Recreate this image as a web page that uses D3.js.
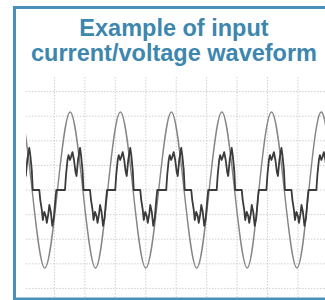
<!DOCTYPE html>
<html>
<head>
<meta charset="utf-8">
<script src="https://cdn.jsdelivr.net/npm/d3@7"></script>
<style>
    html, body { margin: 0; padding: 0; background: #fff; }
    svg { display: block; }
</style>
</head>
<body>
<div id="chart"></div>
<script>
// title text
var titleLines = ["Example of input", "current/voltage waveform"];

// grid: time in ms (12 ms per division), amplitude in divisions
var xTicks = [0, 12, 24, 36, 48, 60, 72, 84, 96, 108, 120];
var yTicks = [-5, -4, -3, -2, -1, 0, 1, 2, 3, 4, 5];

// voltage upward zero crossings (ms)
var cycleStarts = [-6.8, 13.2, 33.0, 53.1, 73.0, 92.6, 112.3];

// one period of voltage, relative to its upward zero crossing
var voltT = [0, 5, 10, 15];
var voltV = [0, 3.17, 0, -3.17];

// one period of input current, relative to the same crossing
var currT = [0, 2.96, 3.36, 3.95, 4.34, 4.93, 5.33, 5.92, 6.51, 7.11, 7.50, 8.09, 8.88, 9.28, 9.87, 10.26,
             12.83, 13.22, 13.82, 14.21, 14.80, 15.39, 15.79, 16.38, 16.78, 17.37, 17.96, 18.55, 19.15, 19.54];
var currV = [0, 0, 0.61, 1.22, 1.42, 1.22, 1.34, 1.54, 1.22, 0.73, 0.57, 1.22, 1.71, 1.42, 0.81, 0,
             0, -0.41, -0.81, -1.22, -0.89, -1.06, -1.34, -0.98, -0.61, -0.89, -1.46, -1.14, -0.41, 0];

var width = 325, height = 300;
var plot = { left: 26, top: 77, right: 330, bottom: 297 };

var svg = d3.select("#chart").append("svg")
    .attr("width", width)
    .attr("height", height);

var x = d3.scaleLinear().domain([0, 120]).range([24, 328.4]);
var y = d3.scaleLinear().domain([-4, 4]).range([288.4, 91.6]);

// blurred look of the scanned oscilloscope trace
var defs = svg.append("defs");
defs.append("filter").attr("id", "soft")
    .append("feGaussianBlur").attr("stdDeviation", 0.4);
defs.append("clipPath").attr("id", "plotClip")
    .append("rect")
    .attr("x", plot.left).attr("y", plot.top)
    .attr("width", plot.right - plot.left).attr("height", plot.bottom - plot.top);

var g = svg.append("g").attr("clip-path", "url(#plotClip)");

// dotted grid
g.selectAll(".vgrid").data(xTicks).enter().append("line")
    .attr("class", "vgrid")
    .attr("x1", function(d) { return x(d); })
    .attr("x2", function(d) { return x(d); })
    .attr("y1", plot.top).attr("y2", plot.bottom)
    .attr("stroke", "#cfcfcf")
    .attr("stroke-width", 1)
    .attr("stroke-dasharray", "1.5,1.5");

g.selectAll(".hgrid").data(yTicks).enter().append("line")
    .attr("class", "hgrid")
    .attr("y1", function(d) { return y(d); })
    .attr("y2", function(d) { return y(d); })
    .attr("x1", plot.left).attr("x2", plot.right)
    .attr("stroke", "#cfcfcf")
    .attr("stroke-width", 1)
    .attr("stroke-dasharray", "1.5,1.5");

function tile(ts, vs) {
    var pts = [];
    cycleStarts.forEach(function(s) {
        for (var i = 0; i < ts.length; i++) {
            pts.push([s + ts[i], vs[i]]);
        }
    });
    return pts;
}

var voltage = tile(voltT, voltV);
var current = tile(currT, currV);

// stretches where the current sits at zero (drawn heavier, noisy on the scope)
var flats = [];
for (var i = 1; i < current.length; i++) {
    if (current[i - 1][1] === 0 && current[i][1] === 0) {
        flats.push([current[i - 1], current[i]]);
    }
}

var voltLine = d3.line()
    .x(function(d) { return x(d[0]); })
    .y(function(d) { return y(d[1]); })
    .curve(d3.curveNatural);

var currLine = d3.line()
    .x(function(d) { return x(d[0]); })
    .y(function(d) { return y(d[1]); });

g.append("path")
    .datum(voltage)
    .attr("d", voltLine)
    .attr("fill", "none")
    .attr("stroke", "#858585")
    .attr("stroke-width", 1.4)
    .attr("filter", "url(#soft)");

g.append("path")
    .datum(current)
    .attr("d", currLine)
    .attr("fill", "none")
    .attr("stroke", "#3a3a3a")
    .attr("stroke-width", 1.8)
    .attr("stroke-linejoin", "round")
    .attr("filter", "url(#soft)");

g.selectAll(".flat").data(flats).enter().append("path")
    .attr("class", "flat")
    .attr("d", currLine)
    .attr("fill", "none")
    .attr("stroke", "#2e2e2e")
    .attr("stroke-width", 3.6)
    .attr("filter", "url(#soft)");

// blue frame
svg.append("rect")
    .attr("x", 14.5).attr("y", 7.5)
    .attr("width", 320).attr("height", 291.5)
    .attr("fill", "none")
    .attr("stroke", "#4b90bb")
    .attr("stroke-width", 3);

// title
svg.selectAll(".title").data(titleLines).enter().append("text")
    .attr("class", "title")
    .attr("x", 174)
    .attr("y", function(d, i) { return 36 + i * 25; })
    .attr("text-anchor", "middle")
    .attr("font-family", "'Liberation Sans', Arial, sans-serif")
    .attr("font-weight", "bold")
    .attr("font-size", "23.5px")
    .attr("fill", "#3d87ae")
    .text(function(d) { return d; });
</script>
</body>
</html>
